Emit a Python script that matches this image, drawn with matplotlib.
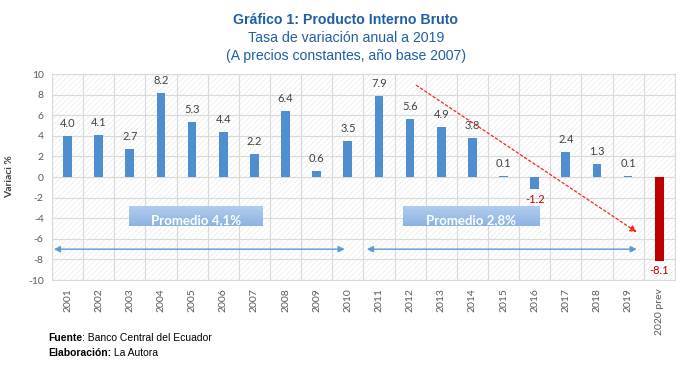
import matplotlib
matplotlib.use('Agg')
import matplotlib.pyplot as plt
import numpy as np
from matplotlib.colors import LinearSegmentedColormap
from matplotlib.patches import Rectangle

years = ['2001', '2002', '2003', '2004', '2005', '2006', '2007', '2008', '2009', '2010',
         '2011', '2012', '2013', '2014', '2015', '2016', '2017', '2018', '2019', '2020 prev']
growth = [4.0, 4.1, 2.7, 8.2, 5.3, 4.4, 2.2, 6.4, 0.6, 3.5,
          7.9, 5.6, 4.9, 3.8, 0.1, -1.2, 2.4, 1.3, 0.1, -8.1]
averages = ['Promedio 4,1%', 'Promedio 2,8%']

BLUE = '#4f8fd0'
RED = '#c00000'
GRID = '#d9d9d9'
TXT = '#595959'

plt.rcParams['hatch.linewidth'] = 0.35
plt.rcParams['axes.unicode_minus'] = False

fig = plt.figure(figsize=(7, 3.7), dpi=100)
ax = fig.add_axes([0.0743, 0.243, 0.8897, 0.557])

x = np.arange(len(years))
colors = [BLUE] * (len(years) - 1) + [RED]
ax.bar(x, growth, width=0.28, color=colors, zorder=3)

# value labels
for xi, v in zip(x, growth):
    if v >= 0:
        ax.annotate(f'{v:.1f}', (xi, v), xytext=(0, 5), textcoords='offset points',
                    ha='center', va='bottom', fontsize=8, color='#404040',
                    family='Lato', zorder=5)
    else:
        ax.annotate(f'{v:.1f}', (xi, v), xytext=(0, -3), textcoords='offset points',
                    ha='center', va='top', fontsize=8, color=RED,
                    family='Lato', zorder=5)

# hatched background
ax.add_patch(Rectangle((0, 0), 1, 1, transform=ax.transAxes, facecolor='white',
                       edgecolor='#e2e2e2', hatch='//////', lw=0, zorder=0))
ax.set_facecolor('white')

ax.set_xlim(-0.5, len(years) - 0.5)
ax.set_ylim(-10, 10)
ax.set_yticks(np.arange(-10, 11, 2))
ax.set_xticks(x)
ax.set_xticklabels(years, rotation=90, fontsize=7.5, color=TXT, family='Lato')
for lab in ax.get_yticklabels():
    lab.set_fontsize(7.5)
    lab.set_color(TXT)
    lab.set_family('Lato')
ax.tick_params(length=0, pad=6)
ax.set_xticks(np.arange(-0.5, len(years), 1), minor=True)
ax.tick_params(which='minor', length=0)
ax.grid(axis='y', color=GRID, lw=0.8, zorder=1)
ax.grid(axis='x', which='minor', color=GRID, lw=0.8, zorder=1)
ax.grid(axis='x', which='major', visible=False)
ax.set_axisbelow(True)
for s in ax.spines.values():
    s.set_color(GRID)
    s.set_linewidth(0.8)

ax.set_ylabel('Variaci %', fontsize=7.5, fontweight='bold', color='#404040',
              family='Lato', labelpad=10)

# average boxes with a light gradient, drawn as thin stripes
cmap = LinearSegmentedColormap.from_list('box', ['#8db3e2', '#b0cbec'])
y0, y1 = -4.76, -2.82
n = 24
for (x0, x1), label in zip([(1.97, 6.27), (10.77, 15.17)], averages):
    h = (y1 - y0) / n
    for i in range(n):
        ax.add_patch(Rectangle((x0, y0 + i * h), x1 - x0, h * 1.05,
                               facecolor=cmap(i / (n - 1)), lw=0, zorder=4))
    ax.text((x0 + x1) / 2, -4.15, label, ha='center', va='center', fontsize=9.5,
            fontweight='bold', color='white', family='Lato', zorder=5)

# period arrows
for x0, x1 in [(-0.44, 8.9), (9.61, 18.28)]:
    ax.annotate('', xy=(x1, -7.0), xytext=(x0, -7.0),
                arrowprops=dict(arrowstyle='<|-|>', color='#5b9bd5', lw=1.0,
                                mutation_scale=9, shrinkA=0, shrinkB=0), zorder=5)

# trend arrow
ax.annotate('', xy=(18.28, -5.35), xytext=(11.2, 8.9),
            arrowprops=dict(arrowstyle='-|>', color='#ff2020', lw=0.9, ls=(0, (2, 2)),
                            mutation_scale=10, shrinkA=0, shrinkB=0), zorder=5)

# titles
tc = '#1f5fa8'
fig.text(0.494, 1 - 20 / 370, 'Gráfico 1: Producto Interno Bruto', ha='center', va='center',
         fontsize=10.2, fontweight='bold', color=tc, family='Liberation Sans')
fig.text(0.494, 1 - 38 / 370, 'Tasa de variación anual a 2019', ha='center', va='center',
         fontsize=10.2, color=tc, family='Liberation Sans')
fig.text(0.494, 1 - 56 / 370, '(A precios constantes, año base 2007)', ha='center',
         va='center', fontsize=10.1, color=tc, family='Liberation Sans')

# source notes
t1 = fig.text(48 / 700, 1 - 338 / 370, 'Fuente', ha='left', va='center', fontsize=7.5,
              fontweight='bold', color='black', family='Liberation Sans')
ax.annotate(': Banco Central del Ecuador', xy=(1, 0.5), xycoords=t1, ha='left', va='center',
            fontsize=7.5, color='black', family='Liberation Sans', annotation_clip=False)
t2 = fig.text(48 / 700, 1 - 353 / 370, 'Elaboración:', ha='left', va='center',
              fontsize=7.5, fontweight='bold', color='black', family='Liberation Sans')
ax.annotate(' La Autora', xy=(1, 0.5), xycoords=t2, ha='left', va='center',
            fontsize=7.5, color='black', family='Liberation Sans', annotation_clip=False)

fig.savefig('out.png', dpi=100)
